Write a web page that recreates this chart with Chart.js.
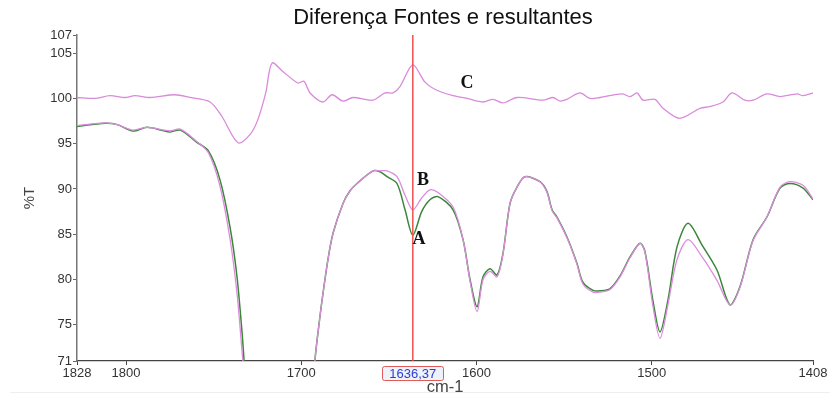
<!DOCTYPE html>
<html>
<head>
<meta charset="utf-8">
<script src="https://cdn.jsdelivr.net/npm/chart.js@4"></script>
<style>
  html, body { margin: 0; padding: 0; background: #fff; }
  canvas { display: block; }
</style>
</head>
<body>
<canvas id="_spectra" width="830" height="397"></canvas>
<script>
// spectrum A (green) and B (violet) share the wavenumber grid
const wavenumbers = [1828, 1812, 1805, 1796, 1788, 1775, 1769, 1760, 1753, 1746.4, 1740.7, 1736.7, 1733.8, 1732.7, 1729, 1696,
    1692.2, 1689.3, 1687.6, 1684.8, 1681.9, 1676.2, 1672.2, 1668.2, 1659.1, 1655.1, 1651.1, 1645.4, 1640.8, 1636.37,
    1631.3, 1626.6, 1622, 1613.4, 1607.7, 1603.7, 1599.7, 1596.3, 1592.3, 1588.3, 1584.9, 1580.9, 1576.9, 1572.4,
    1563.8, 1559.8, 1556.9, 1554.1, 1548.4, 1542.7, 1539.3, 1533.5, 1529.6, 1523.8, 1518.1, 1512.4, 1506.7, 1503.9,
    1499.3, 1495.3, 1490.8, 1485.6, 1479.3, 1471.3, 1462.8, 1455.4, 1449.7, 1442.2, 1434.3, 1426.8, 1421.1, 1413.7, 1408];
const spectrumA = [96.9, 97.25, 97.1, 96.4, 96.8, 96.3, 96.5, 95.2, 94.2, 91.0, 85.8, 80.3, 74.1, 71.1, 60, 60,
    71.1, 76.0, 78.5, 82.2, 85.1, 88.4, 89.8, 90.6, 92.0, 91.9, 91.35, 90.6, 87.7, 84.9,
    87.5, 88.8, 89.15, 87.7, 84.4, 80.0, 77.0, 80.3, 81.2, 80.5, 82.9, 88.4, 90.2, 91.35,
    90.8, 89.7, 87.7, 86.9, 84.7, 81.8, 79.7, 78.8, 78.75, 79.0, 80.4, 82.5, 84.0, 83.1,
    77.6, 74.2, 77.7, 83.6, 86.2, 83.8, 81.05, 77.2, 79.2, 84.4, 86.9, 90.1, 90.6, 90.1, 88.8];
const spectrumB = [97.0, 97.3, 97.1, 96.5, 96.8, 96.4, 96.6, 95.3, 94.0, 90.3, 84.5, 78.5, 72.0, 69.5, 58, 60,
    71.1, 76.0, 78.5, 82.2, 85.1, 88.4, 89.8, 90.6, 92.0, 92.0, 92.0, 91.35, 89.3, 87.7,
    89.0, 89.9, 89.6, 88.0, 84.4, 79.8, 76.45, 80.0, 80.9, 80.3, 82.8, 88.4, 90.2, 91.35,
    90.8, 89.6, 87.6, 86.8, 84.6, 81.7, 79.5, 78.6, 78.6, 78.9, 80.3, 82.4, 84.0, 83.0,
    77.0, 73.5, 77.2, 82.2, 84.4, 82.5, 79.9, 77.2, 79.1, 84.3, 86.9, 90.2, 90.8, 90.4, 88.9];

// difference curve C
const diffWavenumbers = [1828, 1817.7, 1809.2, 1800.6, 1794.9, 1786.3, 1772.1, 1763.5, 1752.1, 1745.3, 1736.1, 1729.3,
    1724.9, 1720.3, 1716.7, 1710.4, 1701.9, 1698.5, 1695.0, 1687.6, 1682.5, 1676.2, 1670.5, 1659.1, 1652.2, 1647.7,
    1643.7, 1636.37, 1629.4, 1622.6, 1613.4, 1605.4, 1596.3, 1590.6, 1584.9, 1576.9, 1562.1, 1556.4, 1552.4, 1548.4,
    1541.0, 1535.3, 1529.6, 1517.0, 1512.4, 1508.4, 1505.0, 1498.2, 1493.6, 1484.1, 1472.5, 1466.8, 1459.4, 1454.2,
    1446.8, 1442.2, 1434.3, 1426.8, 1417.1, 1413.7, 1408];
const diffValues = [100.1, 100.0, 100.3, 100.1, 100.3, 100.1, 100.4, 100.1, 99.6, 98.0, 95.1, 96.0,
    97.6, 100.6, 103.9, 102.95, 101.7, 101.9, 100.6, 99.6, 100.4, 99.7, 100.1, 99.8, 100.6, 100.6,
    101.3, 103.7, 101.8, 100.9, 100.3, 100.0, 99.6, 99.9, 99.5, 100.1, 99.8, 100.1, 99.7, 99.9,
    100.6, 100.0, 100.1, 100.5, 100.2, 100.6, 99.8, 99.9, 98.9, 97.8, 98.9, 99.1, 99.6, 100.6,
    99.8, 99.8, 100.5, 100.2, 100.5, 100.3, 100.6];

const xTicks = [1828, 1800, 1700, 1600, 1500, 1408];
const yTicks = [71, 75, 80, 85, 90, 95, 100, 105, 107];

const chartTitle = 'Diferença Fontes e resultantes';
const cursorValue = 1636.37;
const cursorText = '1636,37';

const markLetters = ['A', 'B', 'C'];
const markX = [1632.8, 1630.6, 1605.4];
const markY = [84.4, 91.0, 101.7];

const sans = '"Liberation Sans", Arial, sans-serif';

function toPoints(xs, ys) {
    let pts = [];
    for (var i in xs) {
        pts.push({x: xs[i], y: ys[i]});
    }
    return pts;
}

// title, red cursor with its value box on the axis, and the A/B/C letters
const cursorPlugin = {
    id: 'cursor',
    afterDatasetsDraw(chart) {
        const ctx = chart.ctx;
        const area = chart.chartArea;
        const xs = chart.scales.x;
        const ys = chart.scales.y;
        const px = xs.getPixelForValue(cursorValue);

        ctx.save();
        ctx.textAlign = 'center';
        ctx.textBaseline = 'middle';
        ctx.font = '22px ' + sans;
        ctx.fillStyle = '#111';
        ctx.fillText(chartTitle, (area.left + area.right) / 2 - 2, 18);

        ctx.strokeStyle = '#f25050';
        ctx.lineWidth = 1.5;
        ctx.beginPath();
        ctx.moveTo(px, area.top);
        ctx.lineTo(px, area.bottom);
        ctx.stroke();

        ctx.font = 'bold 18px "Liberation Serif", "Times New Roman", serif';
        ctx.fillStyle = '#111';
        for (var i in markLetters) {
            ctx.fillText(markLetters[i], xs.getPixelForValue(markX[i]), ys.getPixelForValue(markY[i]));
        }

        ctx.font = '13px ' + sans;
        const w = ctx.measureText(cursorText).width + 14;
        ctx.fillStyle = '#eef2fb';
        ctx.strokeStyle = '#e05a5a';
        ctx.lineWidth = 1;
        ctx.beginPath();
        ctx.roundRect(Math.round(px - w / 2) + 0.5, 366.5, w, 14, 2);
        ctx.fill();
        ctx.stroke();
        ctx.fillStyle = '#2a3fd0';
        ctx.fillText(cursorText, px, 374);

        ctx.strokeStyle = '#eeeeee';
        ctx.beginPath();
        ctx.moveTo(10, 392.5);
        ctx.lineTo(830, 392.5);
        ctx.stroke();
        ctx.restore();
    }
};

const ctx = document.getElementById('_spectra');
const spectra_chart = new Chart(ctx, {
    type: 'line',
    data: {
        datasets: [
            {
                label: 'C',
                data: toPoints(diffWavenumbers, diffValues),
                borderColor: '#d98ad9',
                borderWidth: 1.3,
                pointRadius: 0,
                tension: .3,
                clip: 0
            },
            {
                label: 'B',
                data: toPoints(wavenumbers, spectrumB),
                borderColor: '#dc8cdc',
                borderWidth: 1.3,
                pointRadius: 0,
                tension: .3,
                clip: 0
            },
            {
                label: 'A',
                data: toPoints(wavenumbers, spectrumA),
                borderColor: '#3a863a',
                borderWidth: 1.5,
                pointRadius: 0,
                tension: .3,
                clip: 0
            }
        ]
    },
    options: {
        responsive: false,
        animation: false,
        layout: {
            padding: {left: 0, right: 17, top: 35, bottom: 0}
        },
        scales: {
            x: {
                type: 'linear',
                reverse: true,
                min: 1408,
                max: 1828,
                afterBuildTicks: s => { s.ticks = xTicks.map(v => ({value: v})); },
                afterFit: s => { s.height = 36; },
                border: {color: '#444', width: 1.2},
                grid: {drawOnChartArea: false, color: '#444', tickLength: 4},
                ticks: {
                    color: '#333',
                    padding: 1,
                    maxRotation: 0,
                    autoSkip: false,
                    callback: v => String(v),
                    font: {family: sans, size: 13}
                },
                title: {
                    display: true,
                    text: 'cm-1',
                    color: '#444',
                    padding: {top: 0, bottom: 0},
                    font: {family: sans, size: 16.5}
                }
            },
            y: {
                min: 71,
                max: 107,
                afterBuildTicks: s => { s.ticks = yTicks.map(v => ({value: v})); },
                afterFit: s => { s.width = 77; },
                border: {color: '#777', width: 1.5},
                grid: {drawOnChartArea: false, color: '#666', tickLength: 4},
                ticks: {
                    color: '#333',
                    padding: 1,
                    callback: v => String(v),
                    font: {family: sans, size: 13}
                },
                title: {
                    display: true,
                    text: '%T',
                    color: '#444',
                    padding: {top: 21, bottom: 0},
                    font: {family: sans, size: 15}
                }
            }
        },
        plugins: {
            legend: {display: false},
            tooltip: {enabled: false},
            title: {display: false}
        }
    },
    plugins: [cursorPlugin]
});
</script>
</body>
</html>
